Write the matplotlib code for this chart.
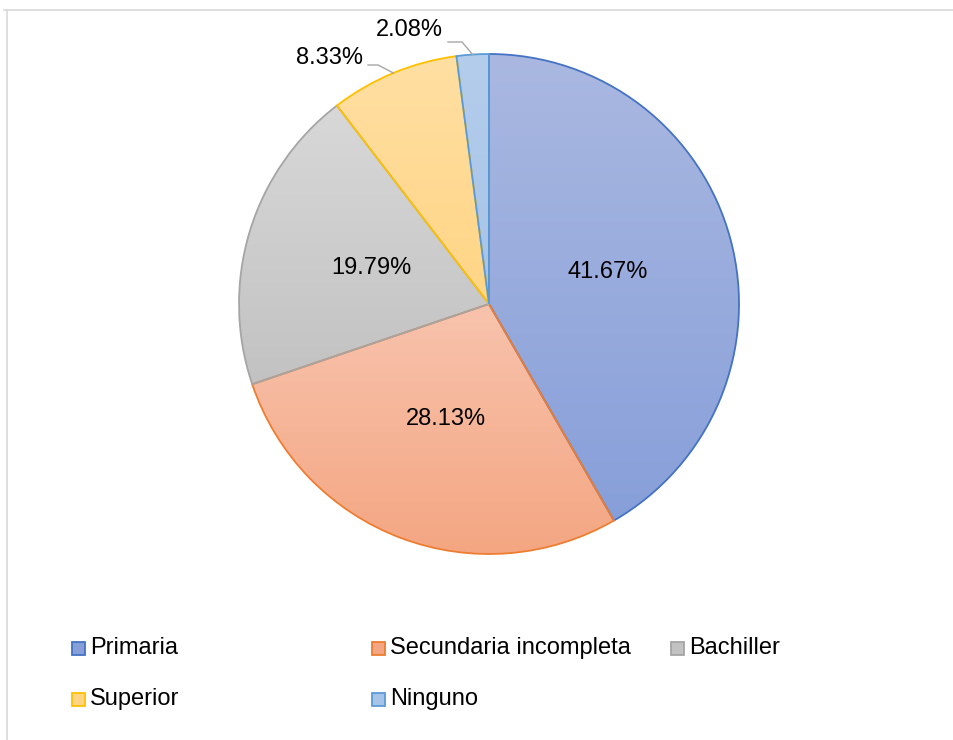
import numpy as np
import matplotlib.pyplot as plt
from matplotlib.colors import LinearSegmentedColormap
from matplotlib.patches import Rectangle
from matplotlib.lines import Line2D

plt.rcParams['font.family'] = ['Liberation Sans', 'DejaVu Sans']

# Nivel de estudios (porcentajes)
categories = ['Primaria', 'Secundaria incompleta', 'Bachiller', 'Superior', 'Ninguno']
values = [41.67, 28.13, 19.79, 8.33, 2.08]

# borde, color arriba, color abajo
edge_colors = ['#4472C4', '#ED7D31', '#A5A5A5', '#FFC000', '#5B9BD5']
top_colors = ['#AAB8E1', '#F8C3AD', '#D8D8D8', '#FFDFA3', '#B5CDEC']
bottom_colors = ['#879FD9', '#F4A682', '#C2C2C2', '#FFD585', '#A6C3E8']

W, H = 954, 740
fig = plt.figure(figsize=(W / 100, H / 100), dpi=100)

cx, cy, R = 489, 304, 250
ax = fig.add_axes([(cx - R) / W, (H - cy - R) / H, 2 * R / W, 2 * R / H])

wedges, _ = ax.pie(values, startangle=90, counterclock=False, radius=1,
                   wedgeprops=dict(linewidth=1.3))

# relleno con degradado vertical dentro de cada porción
for w, ec, c0, c1 in zip(wedges, edge_colors, top_colors, bottom_colors):
    w.set_facecolor('none')
    w.set_edgecolor(ec)
    w.set_zorder(3)
    ext = w.get_path().get_extents()
    cmap = LinearSegmentedColormap.from_list('g', [c1, c0])
    grad = np.linspace(0, 1, 256).reshape(-1, 1)
    im = ax.imshow(grad, cmap=cmap, origin='lower', aspect='auto',
                   extent=[ext.x0, ext.x1, ext.y0, ext.y1], zorder=2,
                   interpolation='bilinear')
    im.set_clip_path(w)
ax.set_xlim(-1, 1)
ax.set_ylim(-1, 1)
ax.set_aspect('equal')
ax.axis('off')

# etiquetas de porcentaje; las porciones pequeñas van fuera con línea guía
# (x texto, y texto, x inicio guía, x codo, y guía)
outside = {3: (-0.504, 0.984, -0.484, -0.444, 0.956),
           4: (-0.184, 1.096, -0.164, -0.108, 1.048)}
total = sum(values)
cum = 0
for i, v in enumerate(values):
    mid = 90 - 360 * (cum + v / 2) / total
    cum += v
    a = np.deg2rad(mid)
    txt = f'{v:.2f}%'
    if i not in outside:
        ax.text(0.49 * np.cos(a), 0.49 * np.sin(a), txt, ha='center', va='center',
                fontsize=17, color='#000000', zorder=5)
    else:
        tx, ty, sx, kx, ly = outside[i]
        ax.add_line(Line2D([sx, kx, np.cos(a)], [ly, ly, np.sin(a)],
                           color='#A6A6A6', linewidth=1.0, zorder=4,
                           clip_on=False))
        ax.text(tx, ty, txt, ha='right', va='center', fontsize=17,
                color='#000000', zorder=5, clip_on=False)

# leyenda
legend_pos = [(72, 648), (372, 648), (671, 648), (72, 699), (372, 699)]
for name, (lx, ly), ec, c0, c1 in zip(categories, legend_pos, edge_colors,
                                      top_colors, bottom_colors):
    fig.patches.append(Rectangle((lx / W, (H - ly - 6.5) / H), 13 / W, 13 / H,
                                 transform=fig.transFigure, facecolor=c1,
                                 edgecolor=ec, linewidth=1.3))
    fig.text((lx + 18) / W, (H - ly) / H, name, ha='left', va='center',
             fontsize=17, color='#000000')

# marco del gráfico
fig.add_artist(Line2D([4 / W, 1], [1 - 10 / H, 1 - 10 / H], color='#D9D9D9',
                      linewidth=1.2, transform=fig.transFigure))
fig.add_artist(Line2D([7 / W, 7 / W], [0, 1 - 10 / H], color='#D9D9D9',
                      linewidth=1.2, transform=fig.transFigure))

fig.savefig('out.png', dpi=100, facecolor='white')
